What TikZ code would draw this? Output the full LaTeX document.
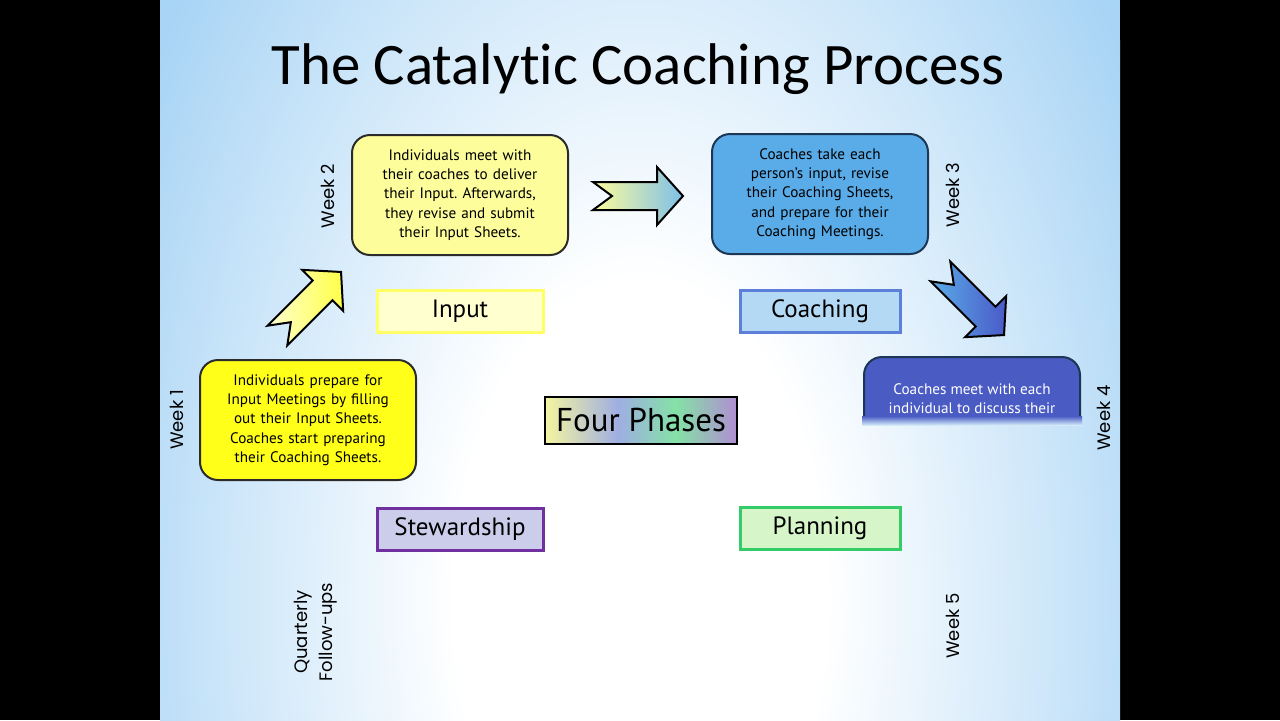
\documentclass[tikz,border=0pt]{standalone}
\usepackage{fontspec}
\setmainfont{PT Sans}
\newfontfamily\titlefont[Ligatures=NoCommon]{Carlito}
\newfontfamily\weekfont{Poppins}
\usetikzlibrary{positioning}
\frenchspacing
\definecolor{bgBlue}{HTML}{A8D4F5}
\definecolor{bgFade}{HTML}{D2E9F8}
\definecolor{paleYellow}{HTML}{FDFD9C}
\definecolor{brightYellow}{HTML}{FFFF1A}
\definecolor{skyBox}{HTML}{5AACE8}
\definecolor{indigoBox}{HTML}{4A5BC4}
\definecolor{boxEdge}{HTML}{2B2B2B}
\definecolor{navyEdge}{HTML}{1C3654}
\definecolor{inputFill}{HTML}{FFFFD0}
\definecolor{inputEdge}{HTML}{FFFF66}
\definecolor{coachFill}{HTML}{B4D9F5}
\definecolor{coachEdge}{HTML}{5C7FD9}
\definecolor{stewFill}{HTML}{CCCCEB}
\definecolor{stewEdge}{HTML}{7030A0}
\definecolor{planFill}{HTML}{D6F5C8}
\definecolor{planEdge}{HTML}{33CC66}
\definecolor{phYellow}{HTML}{F5F5A0}
\definecolor{phBlue}{HTML}{9FAEE2}
\definecolor{phGreen}{HTML}{84E2A6}
\definecolor{phPurple}{HTML}{B08ED2}
\definecolor{arrowBlue}{HTML}{7FBFE8}
\definecolor{arrowIndigo}{HTML}{4A5AC8}
\pgfdeclareradialshading{slidebg}{\pgfpoint{0bp}{0bp}}{color(0bp)=(white); color(8bp)=(white); color(25bp)=(bgBlue); color(50bp)=(bgBlue)}
\pgfdeclarehorizontalshading{fourphases}{100bp}{color(0bp)=(phYellow); color(25bp)=(phYellow); color(44bp)=(phBlue); color(59bp)=(phGreen); color(75bp)=(phPurple); color(100bp)=(phPurple)}
\newcommand{\blockpath}{(0,-14) -- (64,-14) -- (64,-29) -- (90,0) -- (64,29) -- (64,14) -- (0,14) -- (19,0) -- cycle}
\tikzset{
  weekbox/.style={draw=#1, line width=1pt, rounded corners=9pt, text width=100pt,
    minimum width=108pt, minimum height=60pt, align=center, inner sep=4pt,
    font=\fontsize{7.6}{9.65}\selectfont},
  phasebox/.style={draw=#1, line width=1.5pt, minimum width=83pt, minimum height=21pt,
    inner sep=0pt, font=\fontsize{12.5}{14}\selectfont},
  weeklabel/.style={rotate=90, align=center, inner sep=0pt,
    font=\weekfont\fontsize{9}{12.5}\selectfont},
  arrowline/.style={draw=black, line width=1pt, line join=miter},
}
\begin{document}
\begin{tikzpicture}[x=0.5pt,y=-0.5pt]
\useasboundingbox (0,0) rectangle (1280,720);
\fill[black] (0,0) rectangle (1280,720);
% slide background
\begin{scope}
  \clip (160,0) rectangle (1120,720);
  \fill[bgBlue] (160,0) rectangle (1120,720);
  \shade[shading=slidebg] (640,600) ellipse [x radius=580, y radius=1000];
\end{scope}

\node[font=\titlefont\fontsize{29.4}{34}\selectfont] (title) at (638,69) {The Catalytic Coaching Process};

% week boxes
\node[weekbox=boxEdge, fill=brightYellow] (wkone) at (308,420) {Individuals prepare for\\ Input Meetings by filling\\ out their Input Sheets.\\ Coaches start preparing\\ their Coaching Sheets.};
\node[weekbox=boxEdge, fill=paleYellow] (wktwo) at (460,195) {Individuals meet with\\ their coaches to deliver\\ their Input. Afterwards,\\ they revise and submit\\ their Input Sheets.};
\node[weekbox=navyEdge, fill=skyBox] (wkthree) at (820,194) {Coaches take each\\ person’s input, revise\\ their Coaching Sheets,\\ and prepare for their\\ Coaching Meetings.};
\begin{scope}
  \clip (850,350) rectangle (1095,425);
  \draw[navyEdge, line width=1pt, fill=indigoBox, rounded corners=9pt] (864,357) rectangle (1080,477);
  \node[text=white, align=center, anchor=north, inner sep=0pt, font=\fontsize{7.6}{9.65}\selectfont] (wkfour) at (972,383) {Coaches meet with each\\ individual to discuss their};
  \shade[top color=indigoBox, bottom color=bgFade] (862,416) rectangle (1082,425);
\end{scope}

% week labels
\node[weeklabel] (lblone) at (177,420) {Week 1};
\node[weeklabel] (lbltwo) at (328,196) {Week 2};
\node[weeklabel] (lblthree) at (953,195) {Week 3};
\node[weeklabel] (lblfour) at (1104,418) {Week 4};
\node[weeklabel] (lblfive) at (953,626) {Week 5};
\node[weeklabel] (lblquarter) at (316,632) {Quarterly\\ Follow-ups};

% phases
\node[phasebox=inputEdge, fill=inputFill, below=16.5pt of wktwo] (input) {Input};
\node[phasebox=coachEdge, fill=coachFill, minimum width=80pt, below=17pt of wkthree] (coaching) {Coaching};
\node[phasebox=stewEdge, fill=stewFill] (stewardship) at (460,529) {Stewardship};
\node[phasebox=planEdge, fill=planFill, minimum width=80pt] (planning) at (820,528) {Planning};
\node[draw=black, line width=1pt, shading=fourphases, minimum width=96pt, minimum height=23.5pt,
      inner sep=0pt, font=\fontsize{16.5}{18}\selectfont] (fourph) at (641,420) {Four Phases};

% block arrows
\begin{scope}[shift={(593,196)}]
  \draw[arrowline, left color=paleYellow, right color=arrowBlue] \blockpath;
\end{scope}
\begin{scope}[shift={(940.4,271.4)}, rotate=-45]
  \draw[arrowline, left color=skyBox, right color=arrowIndigo] \blockpath;
\end{scope}
\begin{scope}[shift={(277.4,335.6)}, rotate=45]
  \draw[arrowline, left color=inputFill, right color=brightYellow!80!white] \blockpath;
\end{scope}
\end{tikzpicture}
\end{document}
